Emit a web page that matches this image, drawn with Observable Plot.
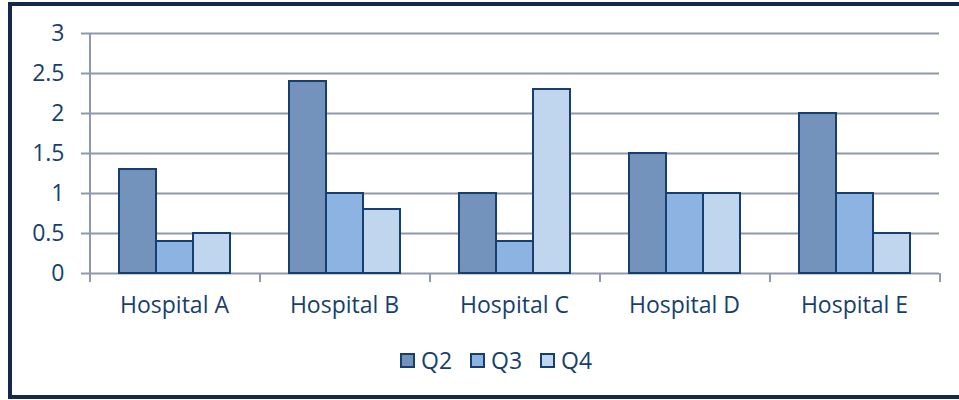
<!DOCTYPE html>
<html>
<head>
<meta charset="utf-8">
<script src="https://cdn.jsdelivr.net/npm/d3@7"></script>
<script src="https://cdn.jsdelivr.net/npm/@observablehq/plot@0.6"></script>
<style>
  body { margin: 0; background: #ffffff; }
  #frame {
    position: absolute; left: 8px; top: 2px;
    width: 960px; height: 389px;
    border: 4px solid #15294a; border-right: none;
    background: #ffffff; overflow: hidden;
    font-family: "Open Sans", sans-serif; color: #173f6d;
  }
  #chart { position: absolute; left: 0; top: 0; }
  #legend {
    position: absolute; left: 388px; top: 343px;
    display: flex; align-items: center; font-size: 23px; line-height: 1;
  }
  .item { display: flex; align-items: center; margin-right: 18px; }
  .sw { width: 11px; height: 11px; border: 2px solid #173f6d; margin-right: 6px; }
</style>
</head>
<body>
<div id="frame">
  <div id="chart"></div>
  <div id="legend"></div>
</div>
<script>
const hospitals = ["Hospital A", "Hospital B", "Hospital C", "Hospital D", "Hospital E"];
const quarters = ["Q2", "Q3", "Q4"];
const q2 = [1.3, 2.4, 1.0, 1.5, 2.0];
const q3 = [0.4, 1.0, 0.4, 1.0, 1.0];
const q4 = [0.5, 0.8, 2.3, 1.0, 0.5];
const yTicks = [0, 0.5, 1, 1.5, 2, 2.5, 3];
const colors = ["#7393bd", "#8db3e2", "#c0d5ee"];

const series = [q2, q3, q4];
const data = hospitals.flatMap((h, i) =>
  quarters.map((q, j) => ({hospital: h, quarter: q, value: series[j][i]}))
);

const gridColor = "#9098ab";
const ink = "#173f6d";

// Rendered once per facet (in facet-local coordinates): boundary ticks below
// the baseline at both edges of the facet; the full y-axis line only in the first facet.
let facetCount = 0;
const edgeMark = (index, scales) => {
  const fx = scales.fx, y = scales.y;
  const left = fx(hospitals[0]);
  const right = left + fx.bandwidth();
  const y0 = y(0), yTop = y(3);
  const g = d3.create("svg:g").attr("stroke", gridColor).attr("stroke-width", 2).attr("fill", "none");
  if (facetCount++ === 0) {
    g.append("line").attr("x1", left).attr("x2", left).attr("y1", yTop).attr("y2", y0 + 9);
  }
  g.append("line").attr("x1", left).attr("x2", left).attr("y1", y0).attr("y2", y0 + 9);
  g.append("line").attr("x1", right).attr("x2", right).attr("y1", y0).attr("y2", y0 + 9);
  return g.node();
};

const chart = Plot.plot({
  width: 947,
  height: 320,
  marginLeft: 76,
  marginRight: 19,
  marginTop: 27,
  marginBottom: 53,
  style: {fontFamily: "'Open Sans', sans-serif", fontSize: "23px", color: ink, background: "transparent"},
  fx: {domain: hospitals, padding: 0, label: null, axis: null},
  x: {domain: quarters, paddingInner: 0, paddingOuter: 0.742, axis: null},
  y: {domain: [0, 3], label: null, axis: null},
  color: {domain: quarters, range: colors},
  marks: [
    Plot.gridY(yTicks, {stroke: gridColor, strokeOpacity: 1, strokeWidth: 2}),
    Plot.barY(data, {fx: "hospital", x: "quarter", y: "value", fill: "quarter", stroke: ink, strokeWidth: 2}),
    Plot.axisFx({anchor: "bottom", tickSize: 0, tickPadding: 23, label: null, fill: ink}),
    Plot.axisY(yTicks, {tickSize: 8, tickPadding: 17, label: null, tickFormat: d => String(d), stroke: gridColor, strokeWidth: 2, fill: ink}),
    edgeMark
  ]
});
document.getElementById("chart").appendChild(chart);

const legend = document.getElementById("legend");
quarters.forEach((q, j) => {
  const item = document.createElement("div");
  item.className = "item";
  const sw = document.createElement("div");
  sw.className = "sw";
  sw.style.background = colors[j];
  const t = document.createElement("span");
  t.textContent = q;
  item.appendChild(sw);
  item.appendChild(t);
  legend.appendChild(item);
});
</script>
</body>
</html>
